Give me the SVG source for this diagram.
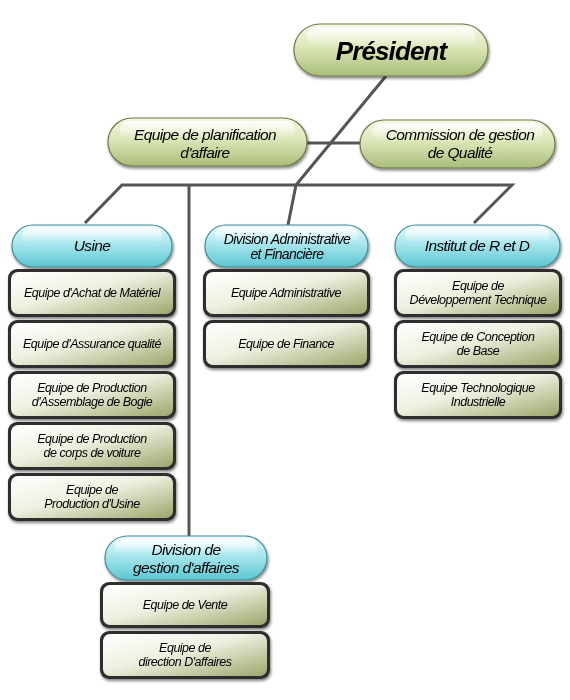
<svg xmlns="http://www.w3.org/2000/svg" width="570" height="700" viewBox="0 0 570 700">
<defs>
<linearGradient id="gPill" x1="0" y1="0" x2="0" y2="1">
<stop offset="0" stop-color="#f4f8e2"/>
<stop offset="0.45" stop-color="#dbe6b8"/>
<stop offset="1" stop-color="#a9bd78"/>
</linearGradient>
<linearGradient id="cPill" x1="0" y1="0" x2="0" y2="1">
<stop offset="0" stop-color="#e6fafc"/>
<stop offset="0.45" stop-color="#a8e6ec"/>
<stop offset="1" stop-color="#5cc6d2"/>
</linearGradient>
<linearGradient id="gBox" x1="0" y1="0" x2="1" y2="1">
<stop offset="0" stop-color="#ffffff"/>
<stop offset="0.45" stop-color="#eef0e0"/>
<stop offset="1" stop-color="#9ea66c"/>
</linearGradient>
<linearGradient id="hl" x1="0" y1="0" x2="0" y2="1">
<stop offset="0" stop-color="#ffffff" stop-opacity="0.85"/>
<stop offset="1" stop-color="#ffffff" stop-opacity="0"/>
</linearGradient>
<filter id="sh" x="-10%" y="-20%" width="120%" height="150%">
<feGaussianBlur in="SourceAlpha" stdDeviation="1.5"/>
<feOffset dx="1" dy="2" result="b"/>
<feComponentTransfer><feFuncA type="linear" slope="0.5"/></feComponentTransfer>
<feMerge><feMergeNode/><feMergeNode in="SourceGraphic"/></feMerge>
</filter>
</defs>
<style>
text{font-family:"Liberation Sans",Arial,sans-serif;font-style:italic;fill:#000;text-anchor:middle}
.t{font-size:12.5px;letter-spacing:-0.5px}
.p{font-size:15.5px;letter-spacing:-0.6px}
.pres{font-size:26px;font-weight:bold;letter-spacing:-0.9px}
.pill{fill:url(#gPill);stroke:#6e7a4c;stroke-width:1.2}
.cpill{fill:url(#cPill);stroke:#3f8f98;stroke-width:1.2}
.bo{fill:#2e2e2e}
.bi{fill:url(#gBox)}
.hl{fill:url(#hl)}
.c{stroke:#555;stroke-width:3;fill:none}
</style>
<g id="connectors">
<line class="c" x1="386" y1="76" x2="296" y2="185"/>
<line class="c" x1="306" y1="143" x2="362" y2="143"/>
<polyline class="c" points="85,223 122,185 512,185 474,223"/>
<line class="c" x1="296" y1="185" x2="288" y2="225"/>
<line class="c" x1="189" y1="185" x2="189" y2="537"/>
</g>
<g id="president" filter="url(#sh)">
<rect class="pill" x="294" y="24" width="194" height="52" rx="26"/>
<rect class="hl" x="306" y="27" width="170" height="20" rx="10"/>
<text class="pres" x="391" y="60">Président</text>
</g>
<g id="planification" filter="url(#sh)">
<rect class="pill" x="108" y="118" width="199" height="48" rx="24"/>
<rect class="hl" x="120" y="121" width="175" height="18" rx="9"/>
<text class="p" x="205" y="140">Equipe de planification</text>
<text class="p" x="205" y="158">d'affaire</text>
</g>
<g id="commission" filter="url(#sh)">
<rect class="pill" x="360" y="120" width="195" height="48" rx="24"/>
<rect class="hl" x="372" y="123" width="171" height="18" rx="9"/>
<text class="p" x="460" y="140">Commission de gestion</text>
<text class="p" x="460" y="158">de Qualité</text>
</g>
<g id="usine" filter="url(#sh)">
<rect class="cpill" x="12" y="225" width="160" height="42" rx="21"/>
<rect class="hl" x="22" y="227" width="140" height="16" rx="8"/>
<text class="p" x="92" y="251">Usine</text>
</g>
<g id="division-admin" filter="url(#sh)">
<rect class="cpill" x="205" y="225" width="163" height="42" rx="21"/>
<rect class="hl" x="215" y="227" width="143" height="16" rx="8"/>
<text class="p" x="287" y="244" style="font-size:14px">Division Administrative</text>
<text class="p" x="287" y="259" style="font-size:14px">et Financière</text>
</g>
<g id="institut" filter="url(#sh)">
<rect class="cpill" x="395" y="225" width="165" height="42" rx="21"/>
<rect class="hl" x="405" y="227" width="145" height="16" rx="8"/>
<text class="p" x="477" y="251">Institut de R et D</text>
</g>
<g id="achat" filter="url(#sh)">
<rect class="bo" x="8" y="269" width="168" height="48" rx="9"/>
<rect class="bi" x="11" y="272" width="162" height="42" rx="7"/>
<text class="t" x="92" y="297">Equipe d'Achat de Matériel</text>
</g>
<g id="assurance" filter="url(#sh)">
<rect class="bo" x="8" y="320" width="168" height="48" rx="9"/>
<rect class="bi" x="11" y="323" width="162" height="42" rx="7"/>
<text class="t" x="92" y="348">Equipe d'Assurance qualité</text>
</g>
<g id="bogie" filter="url(#sh)">
<rect class="bo" x="8" y="371" width="168" height="48" rx="9"/>
<rect class="bi" x="11" y="374" width="162" height="42" rx="7"/>
<text class="t" x="92" y="392">Equipe de Production</text>
<text class="t" x="92" y="405.5">d'Assemblage de Bogie</text>
</g>
<g id="corps" filter="url(#sh)">
<rect class="bo" x="8" y="422" width="168" height="48" rx="9"/>
<rect class="bi" x="11" y="425" width="162" height="42" rx="7"/>
<text class="t" x="92" y="443">Equipe de Production</text>
<text class="t" x="92" y="456.5">de corps de voiture</text>
</g>
<g id="prod-usine" filter="url(#sh)">
<rect class="bo" x="8" y="473" width="168" height="48" rx="9"/>
<rect class="bi" x="11" y="476" width="162" height="42" rx="7"/>
<text class="t" x="92" y="494">Equipe de</text>
<text class="t" x="92" y="507.5">Production d'Usine</text>
</g>
<g id="administrative" filter="url(#sh)">
<rect class="bo" x="203" y="269" width="167" height="48" rx="9"/>
<rect class="bi" x="206" y="272" width="161" height="42" rx="7"/>
<text class="t" x="286" y="297">Equipe Administrative</text>
</g>
<g id="finance" filter="url(#sh)">
<rect class="bo" x="203" y="320" width="167" height="48" rx="9"/>
<rect class="bi" x="206" y="323" width="161" height="42" rx="7"/>
<text class="t" x="286" y="348">Equipe de Finance</text>
</g>
<g id="developpement" filter="url(#sh)">
<rect class="bo" x="394" y="269" width="168" height="48" rx="9"/>
<rect class="bi" x="397" y="272" width="162" height="42" rx="7"/>
<text class="t" x="478" y="290">Equipe de</text>
<text class="t" x="478" y="303.5">Développement Technique</text>
</g>
<g id="conception" filter="url(#sh)">
<rect class="bo" x="394" y="320" width="168" height="48" rx="9"/>
<rect class="bi" x="397" y="323" width="162" height="42" rx="7"/>
<text class="t" x="478" y="341">Equipe de Conception</text>
<text class="t" x="478" y="354.5">de Base</text>
</g>
<g id="technologique" filter="url(#sh)">
<rect class="bo" x="394" y="371" width="168" height="48" rx="9"/>
<rect class="bi" x="397" y="374" width="162" height="42" rx="7"/>
<text class="t" x="478" y="392">Equipe Technologique</text>
<text class="t" x="478" y="405.5">Industrielle</text>
</g>
<g id="division-gestion" filter="url(#sh)">
<rect class="cpill" x="105" y="536" width="162" height="44" rx="22"/>
<rect class="hl" x="115" y="538" width="142" height="17" rx="8"/>
<text class="p" x="186" y="555">Division de</text>
<text class="p" x="186" y="573">gestion d'affaires</text>
</g>
<g id="vente" filter="url(#sh)">
<rect class="bo" x="100" y="582" width="170" height="46" rx="9"/>
<rect class="bi" x="103" y="585" width="164" height="40" rx="7"/>
<text class="t" x="185" y="609">Equipe de Vente</text>
</g>
<g id="direction" filter="url(#sh)">
<rect class="bo" x="100" y="631" width="170" height="48" rx="9"/>
<rect class="bi" x="103" y="634" width="164" height="42" rx="7"/>
<text class="t" x="185" y="652">Equipe de</text>
<text class="t" x="185" y="665.5">direction D'affaires</text>
</g>
</svg>
